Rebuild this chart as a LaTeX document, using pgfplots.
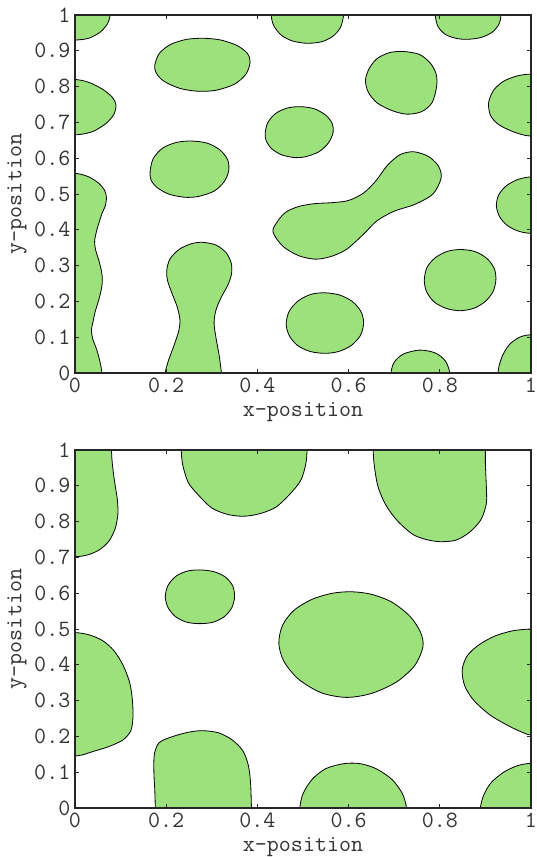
\documentclass[border=0pt]{standalone}
\usepackage{pgfplots}
\pgfplotsset{compat=1.18}
\usepackage{fontspec}
\definecolor{blobgreen}{RGB}{157,225,125}
\definecolor{axcol}{RGB}{38,38,38}

\pgfplotsset{
  posplot/.style={
    scale only axis, width=342pt, height=268.5pt,
    xmin=0, xmax=1, ymin=0, ymax=1,
    axis on top, tick align=inside, major tick length=3pt,
    axis line style={axcol, line width=0.8pt},
    every tick/.style={axcol, line width=0.6pt},
    font=\ttfamily\fontsize{17.5}{20}\selectfont,
    tick label style={black!80},
    label style={black!80},
    xtick={0,0.2,0.4,0.6,0.8,1},
    xticklabels={0,0.2,0.4,0.6,0.8,1},
    ytick={0,0.1,0.2,0.3,0.4,0.5,0.6,0.7,0.8,0.9,1},
    yticklabels={0,0.1,0.2,0.3,0.4,0.5,0.6,0.7,0.8,0.9,1},
    xlabel={x-position}, ylabel={y-position},
    xlabel style={at={(axis description cs:0.5,-0.109)}, anchor=center},
    ylabel style={at={(axis description cs:-0.127,0.5)}, anchor=center},
  },
  blob/.style={fill=blobgreen, draw=black, line width=0.6pt, smooth cycle},
}

\begin{document}
\begin{tikzpicture}
\path[use as bounding box] (-56.25pt,0pt) rectangle (345.75pt,-642.75pt);

% upper panel
\begin{axis}[posplot, at={(0pt,-279.75pt)}, anchor=south west]
\addplot[blob] coordinates {(0,0.93)(0.03,0.935)(0.055,0.952)(0.071,0.975)(0.077,1)(0.078,1.05)(-0.05,1.05)(-0.05,0.93)};
\addplot[blob] coordinates {(0.175,0.86)(0.185,0.893)(0.21,0.918)(0.245,0.932)(0.283,0.935)(0.32,0.93)(0.355,0.915)(0.378,0.893)(0.384,0.868)(0.375,0.835)(0.35,0.807)(0.31,0.79)(0.27,0.787)(0.23,0.795)(0.195,0.815)(0.178,0.838)};
\addplot[blob] coordinates {(0,0.82)(0.03,0.812)(0.06,0.793)(0.082,0.77)(0.09,0.748)(0.085,0.722)(0.068,0.697)(0.04,0.675)(0.015,0.667)(0,0.665)(-0.05,0.665)(-0.05,0.82)};
\addplot[blob] coordinates {(0.165,0.567)(0.172,0.6)(0.192,0.628)(0.222,0.644)(0.255,0.648)(0.29,0.642)(0.318,0.623)(0.335,0.595)(0.337,0.565)(0.327,0.534)(0.305,0.508)(0.27,0.493)(0.24,0.491)(0.205,0.5)(0.178,0.52)(0.166,0.542)};
\addplot[blob] coordinates {(0,0.558)(0.03,0.548)(0.052,0.53)(0.065,0.51)(0.069,0.49)(0.066,0.465)(0.059,0.445)(0.048,0.4)(0.043,0.367)(0.046,0.34)(0.052,0.316)(0.058,0.285)(0.06,0.26)(0.058,0.235)(0.052,0.204)(0.044,0.17)(0.039,0.14)(0.036,0.12)(0.039,0.095)(0.048,0.064)(0.055,0.03)(0.059,0)(0.061,-0.05)(-0.05,-0.05)(-0.05,0.558)};
\addplot[blob] coordinates {(0.197,-0.05)(0.198,0)(0.205,0.035)(0.218,0.08)(0.228,0.12)(0.23,0.15)(0.224,0.185)(0.212,0.225)(0.203,0.258)(0.201,0.285)(0.208,0.318)(0.228,0.345)(0.255,0.361)(0.28,0.365)(0.31,0.357)(0.332,0.335)(0.343,0.305)(0.343,0.275)(0.335,0.245)(0.32,0.21)(0.309,0.175)(0.305,0.14)(0.309,0.1)(0.316,0.05)(0.321,0)(0.322,-0.05)};
\addplot[blob] coordinates {(0.428,1.05)(0.43,1)(0.436,0.97)(0.453,0.943)(0.478,0.927)(0.509,0.921)(0.54,0.925)(0.565,0.94)(0.582,0.965)(0.589,1)(0.59,1.05)};
\addplot[blob] coordinates {(0.789,1.05)(0.79,1)(0.796,0.968)(0.812,0.946)(0.835,0.935)(0.86,0.932)(0.89,0.937)(0.915,0.952)(0.93,0.975)(0.934,1)(0.935,1.05)};
\addplot[blob] coordinates {(0.637,0.818)(0.645,0.85)(0.662,0.878)(0.69,0.895)(0.721,0.898)(0.755,0.89)(0.779,0.866)(0.792,0.835)(0.793,0.8)(0.783,0.755)(0.76,0.73)(0.728,0.723)(0.695,0.733)(0.662,0.755)(0.643,0.785)};
\addplot[blob] coordinates {(0.417,0.67)(0.423,0.7)(0.44,0.725)(0.465,0.74)(0.494,0.744)(0.525,0.738)(0.55,0.72)(0.564,0.697)(0.566,0.672)(0.556,0.643)(0.535,0.618)(0.505,0.604)(0.48,0.602)(0.452,0.61)(0.43,0.628)(0.419,0.65)};
\addplot[blob] coordinates {(1,0.835)(0.97,0.83)(0.94,0.815)(0.918,0.79)(0.907,0.755)(0.911,0.72)(0.928,0.695)(0.955,0.677)(0.98,0.666)(1,0.662)(1.05,0.662)(1.05,0.835)};
\addplot[blob] coordinates {(0.434,0.395)(0.445,0.425)(0.462,0.449)(0.49,0.465)(0.525,0.473)(0.565,0.476)(0.6,0.482)(0.633,0.503)(0.66,0.537)(0.685,0.58)(0.713,0.61)(0.743,0.618)(0.775,0.605)(0.797,0.578)(0.803,0.545)(0.785,0.5)(0.745,0.471)(0.7,0.452)(0.662,0.425)(0.633,0.388)(0.595,0.345)(0.56,0.325)(0.527,0.318)(0.49,0.328)(0.455,0.355)};
\addplot[blob] coordinates {(1,0.548)(0.97,0.54)(0.945,0.522)(0.929,0.497)(0.924,0.467)(0.931,0.437)(0.948,0.412)(0.973,0.396)(1,0.39)(1.05,0.39)(1.05,0.548)};
\addplot[blob] coordinates {(0.766,0.26)(0.772,0.295)(0.79,0.322)(0.817,0.34)(0.848,0.345)(0.88,0.338)(0.905,0.318)(0.92,0.29)(0.923,0.26)(0.917,0.228)(0.9,0.2)(0.875,0.181)(0.845,0.174)(0.815,0.18)(0.788,0.198)(0.771,0.227)};
\addplot[blob] coordinates {(0.463,0.137)(0.47,0.173)(0.49,0.202)(0.518,0.22)(0.548,0.224)(0.58,0.218)(0.608,0.2)(0.627,0.172)(0.633,0.14)(0.626,0.105)(0.606,0.077)(0.578,0.06)(0.548,0.055)(0.516,0.06)(0.488,0.077)(0.47,0.104)};
\addplot[blob] coordinates {(0.692,-0.05)(0.693,0)(0.7,0.03)(0.72,0.053)(0.756,0.064)(0.79,0.056)(0.812,0.034)(0.822,0)(0.823,-0.05)};
\addplot[blob] coordinates {(1,0.107)(0.975,0.1)(0.953,0.08)(0.938,0.05)(0.93,0.02)(0.928,0)(0.928,-0.05)(1.05,-0.05)(1.05,0.107)};
\end{axis}

% lower panel
\begin{axis}[posplot, at={(0pt,-606pt)}, anchor=south west]
\addplot[blob] coordinates {(0.08,1.05)(0.08,1)(0.082,0.96)(0.087,0.91)(0.093,0.86)(0.094,0.82)(0.088,0.78)(0.074,0.745)(0.052,0.72)(0.025,0.706)(0,0.702)(-0.05,0.702)(-0.05,1.05)};
\addplot[blob] coordinates {(0.232,1.05)(0.233,1)(0.236,0.96)(0.248,0.91)(0.27,0.875)(0.3,0.838)(0.335,0.82)(0.37,0.815)(0.405,0.822)(0.44,0.84)(0.47,0.875)(0.495,0.915)(0.506,0.96)(0.509,1)(0.51,1.05)};
\addplot[blob] coordinates {(0.654,1.05)(0.654,1)(0.656,0.96)(0.664,0.9)(0.68,0.85)(0.705,0.805)(0.74,0.765)(0.77,0.75)(0.8,0.744)(0.835,0.748)(0.865,0.77)(0.89,0.805)(0.902,0.85)(0.902,0.9)(0.9,0.96)(0.9,1)(0.9,1.05)};
\addplot[blob] coordinates {(0.198,0.59)(0.204,0.622)(0.222,0.648)(0.247,0.662)(0.275,0.665)(0.305,0.66)(0.33,0.645)(0.346,0.62)(0.35,0.59)(0.344,0.56)(0.328,0.535)(0.303,0.519)(0.274,0.515)(0.245,0.519)(0.22,0.535)(0.204,0.56)};
\addplot[blob] coordinates {(0.447,0.46)(0.455,0.51)(0.48,0.552)(0.52,0.583)(0.565,0.6)(0.607,0.604)(0.65,0.597)(0.695,0.575)(0.735,0.535)(0.758,0.49)(0.763,0.45)(0.745,0.398)(0.705,0.352)(0.65,0.32)(0.595,0.309)(0.54,0.322)(0.49,0.36)(0.458,0.41)};
\addplot[blob] coordinates {(0,0.49)(0.03,0.484)(0.06,0.468)(0.085,0.44)(0.105,0.4)(0.12,0.35)(0.126,0.3)(0.127,0.25)(0.122,0.215)(0.105,0.19)(0.075,0.172)(0.04,0.158)(0.015,0.148)(0,0.145)(-0.05,0.145)(-0.05,0.49)};
\addplot[blob] coordinates {(0.176,-0.05)(0.176,0)(0.175,0.05)(0.173,0.1)(0.174,0.15)(0.185,0.183)(0.215,0.2)(0.25,0.212)(0.28,0.216)(0.315,0.21)(0.345,0.19)(0.368,0.16)(0.38,0.12)(0.385,0.07)(0.387,0)(0.388,-0.05)};
\addplot[blob] coordinates {(0.492,-0.05)(0.493,0)(0.5,0.04)(0.52,0.08)(0.55,0.11)(0.59,0.124)(0.625,0.124)(0.66,0.11)(0.695,0.08)(0.718,0.04)(0.727,0)(0.728,-0.05)};
\addplot[blob] coordinates {(1,0.5)(0.96,0.495)(0.92,0.48)(0.885,0.455)(0.86,0.425)(0.849,0.385)(0.855,0.34)(0.875,0.3)(0.91,0.26)(0.95,0.23)(0.98,0.212)(1,0.204)(1.05,0.204)(1.05,0.5)};
\addplot[blob] coordinates {(1,0.125)(0.97,0.118)(0.94,0.1)(0.912,0.07)(0.896,0.035)(0.889,0)(0.889,-0.05)(1.05,-0.05)(1.05,0.125)};
\end{axis}
\end{tikzpicture}
\end{document}
